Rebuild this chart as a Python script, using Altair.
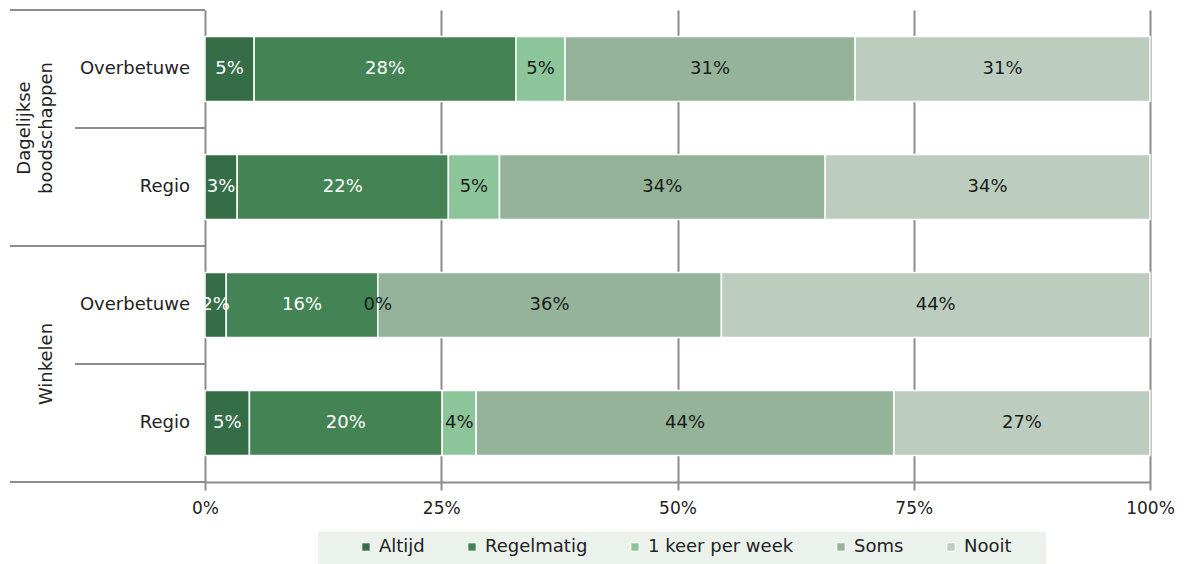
import altair as alt
import pandas as pd

groups = ["Dagelijkse boodschappen", "Dagelijkse boodschappen", "Winkelen", "Winkelen"]
regions = ["Overbetuwe", "Regio", "Overbetuwe", "Regio"]
categories = ["Altijd", "Regelmatig", "1 keer per week", "Soms", "Nooit"]
altijd = [5.2, 3.4, 2.2, 4.7]
regelmatig = [27.7, 22.3, 15.7, 20.4]
keer_per_week = [5.2, 5.4, 0.0, 3.6]
soms = [30.7, 34.4, 35.6, 44.2]
nooit = [31.2, 34.3, 44.4, 27.1]
colors = ["#356d47", "#438354", "#8dc59b", "#94b399", "#bccdc0"]
tick_values = [0, 0.25, 0.5, 0.75, 1]

series = [altijd, regelmatig, keer_per_week, soms, nooit]
row_keys = [f"{g}|{r}" for g, r in zip(groups, regions)]

rows = []
for ci, (cat, vals) in enumerate(zip(categories, series)):
    for ri, key in enumerate(row_keys):
        rows.append({"row": key, "cat": cat, "order": ci, "value": vals[ri]})
df = pd.DataFrame(rows)

row_df = pd.DataFrame({"row": row_keys, "region": regions})
group_names = list(dict.fromkeys(groups))
group_df = pd.DataFrame({
    "group": group_names,
    "center": [float(groups.index(g) + groups.count(g) / 2) for g in group_names],
})
group_bounds = pd.DataFrame({"b": [0, 2, 4]})
inner_bounds = pd.DataFrame({"b": [1, 3]})

W, H = 945, 472
GRAY = "#8c8c8c"
FONT = "DejaVu Sans"
FS = 18

yband = alt.Y("row:N", sort=row_keys, axis=None,
              scale=alt.Scale(paddingInner=0.45, paddingOuter=0.225))

base = alt.Chart(df).transform_stack(
    stack="value", groupby=["row"], as_=["v0", "v1"], offset="normalize",
    sort=[alt.SortField("order", order="ascending")]
).transform_calculate(mid="(datum.v0 + datum.v1) / 2",
                      label="format(datum.value, '.0f') + '%'")

bars = base.mark_bar(stroke="white", strokeWidth=1.5).encode(
    y=yband,
    x=alt.X("v0:Q", scale=alt.Scale(domain=[0, 1], nice=False),
            axis=alt.Axis(values=tick_values, format=".0%", title=None, grid=True,
                          gridColor=GRAY, gridWidth=2, domainColor=GRAY, domainWidth=2,
                          tickColor=GRAY, tickWidth=2, tickSize=8, labelFontSize=17,
                          labelFont=FONT, labelColor="#222", labelPadding=10,
                          labelFlush=False, labelOverlap=False)),
    x2="v1:Q",
    color=alt.Color("cat:N", sort=categories,
                    scale=alt.Scale(domain=categories, range=colors),
                    legend=alt.Legend(title=None, orient="none", legendX=152, legendY=528,
                                      direction="horizontal", symbolType="square",
                                      symbolSize=70, symbolStrokeColor="white",
                                      symbolStrokeWidth=1, labelFontSize=FS, labelFont=FONT,
                                      labelColor="#222", columnPadding=38, labelOffset=4)),
)

labels = base.mark_text(fontSize=FS, font=FONT).encode(
    y=yband,
    x=alt.X("mid:Q"),
    text="label:N",
    color=alt.condition(alt.FieldOneOfPredicate(field="cat", oneOf=["Altijd", "Regelmatig"]),
                        alt.value("white"), alt.value("#1a1a1a")),
)

row_labels = alt.Chart(row_df).mark_text(fontSize=FS, font=FONT, align="right",
                                         color="#222").encode(
    y=yband, x=alt.value(-15), text="region:N")

legend_bg = alt.Chart(pd.DataFrame({"a": [0]})).mark_rect(color="#ebf2ec").encode(
    x=alt.value(113), x2=alt.value(841), y=alt.value(522), y2=alt.value(560))

layer_a = alt.layer(legend_bg, bars, labels, row_labels)

yq = alt.Y("b:Q", scale=alt.Scale(domain=[0, 4], reverse=True, nice=False), axis=None)
g_rules = alt.Chart(group_bounds).mark_rule(color=GRAY, strokeWidth=2).encode(
    y=yq, x=alt.value(-195), x2=alt.value(0))
i_rules = alt.Chart(inner_bounds).mark_rule(color=GRAY, strokeWidth=2).encode(
    y=yq, x=alt.value(-130), x2=alt.value(0))
# single-line group names get an empty first line so that all last lines align
g_labels = alt.Chart(group_df).transform_calculate(
    txt="indexof(datum.group, ' ') < 0 ? ' ' + datum.group : datum.group"
).mark_text(fontSize=FS, font=FONT, angle=270, lineBreak=" ", lineHeight=22,
            baseline="bottom", align="center", color="#222").encode(
    y=alt.Y("center:Q", scale=alt.Scale(domain=[0, 4], reverse=True, nice=False), axis=None),
    x=alt.value(-171), text="txt:N")

layer_b = alt.layer(g_rules, i_rules, g_labels)

chart = alt.layer(layer_b, layer_a).resolve_scale(y="independent").properties(
    width=W, height=H,
    autosize=alt.AutoSizeParams(type="none"),
    padding={"left": 197, "top": 2, "right": 26, "bottom": 82},
).configure_view(stroke=None)

chart.save("out.html", embed_options={"renderer": "svg", "actions": False})
